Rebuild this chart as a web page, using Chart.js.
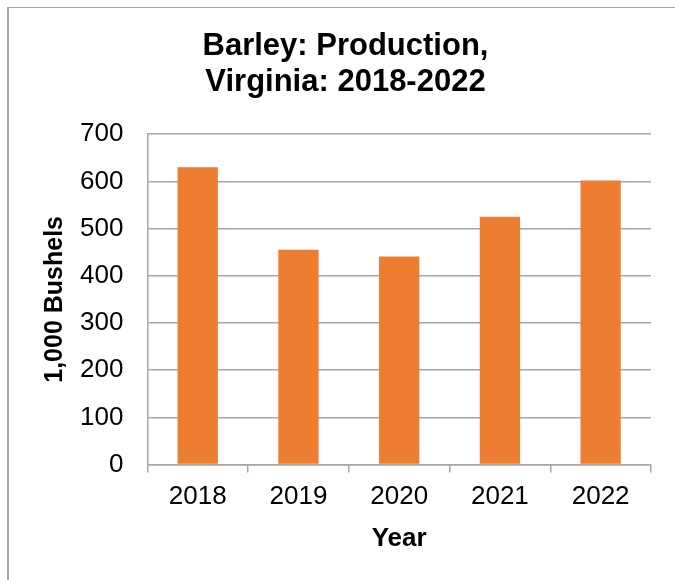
<!DOCTYPE html>
<html>
<head>
<meta charset="utf-8">
<script src="https://cdn.jsdelivr.net/npm/chart.js@4"></script>
<style>
  body { margin: 0; background: #fff; }
  #frame {
    position: absolute; left: 7px; top: 7px; width: 668px; height: 573px;
    border-left: 2px solid #a6a6a6; border-top: 1px solid #a6a6a6;
  }
  #wrap { position: absolute; left: 0; top: 0; width: 666px; height: 572px; }
</style>
</head>
<body>
<div id="frame"><div id="wrap"><canvas id="c"></canvas></div></div>
<script>
// 數據
const years = ['2018', '2019', '2020', '2021', '2022'];
const production = [630, 455, 441, 525, 602];
const titleLines = ['Barley: Production,', 'Virginia: 2018-2022'];

const FONT = "'Liberation Sans', Arial, sans-serif";
const GRID = '#a6a6a6';

new Chart(document.getElementById('c'), {
  type: 'bar',
  data: {
    labels: years,
    datasets: [{
      label: '1,000 Bushels',
      data: production,
      backgroundColor: '#ED7D31',
      borderWidth: 0,
      barPercentage: 0.4,
      categoryPercentage: 1
    }]
  },
  options: {
    responsive: true,
    maintainAspectRatio: false,
    animation: false,
    layout: { padding: { left: 31, right: 24, top: 20, bottom: 26 } },
    plugins: {
      legend: { display: false },
      tooltip: { enabled: false },
      title: {
        display: true,
        text: titleLines,
        color: '#000',
        font: { family: FONT, size: 31, weight: 'bold', lineHeight: 1.18 },
        padding: { top: 0, bottom: 33 }
      }
    },
    scales: {
      x: {
        offset: true,
        grid: { display: true, drawOnChartArea: false, drawTicks: true, tickLength: 8, color: GRID, lineWidth: 1.5 },
        border: { display: true, color: GRID, width: 1.5 },
        ticks: { color: '#000', padding: 9, font: { family: FONT, size: 26 } },
        title: { display: true, text: 'Year', color: '#000', padding: { top: 1, bottom: 0 }, font: { family: FONT, size: 26, weight: 'bold' } }
      },
      y: {
        min: 0,
        max: 700,
        ticks: { stepSize: 100, color: '#000', padding: 24, font: { family: FONT, size: 26 } },
        grid: { color: GRID, lineWidth: 1.5, drawTicks: false },
        border: { display: true, color: GRID, width: 1.5 },
        title: { display: true, text: '1,000 Bushels', color: '#000', padding: { top: 0, bottom: -14 }, font: { family: FONT, size: 25, weight: 'bold' } }
      }
    }
  }
});
</script>
</body>
</html>
